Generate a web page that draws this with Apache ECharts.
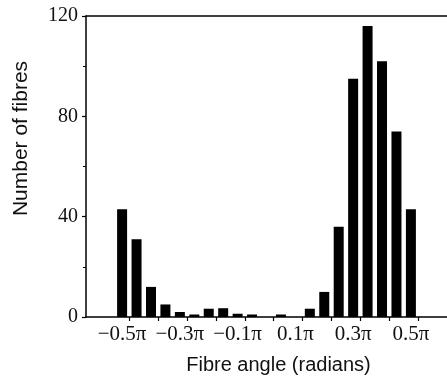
<!DOCTYPE html>
<html>
<head>
<meta charset="utf-8">
<script src="https://cdn.jsdelivr.net/npm/echarts@6/dist/echarts.min.js"></script>
<style>html,body{margin:0;padding:0;background:#fff}#c{width:447px;height:381px}</style>
</head>
<body>
<div id="c"></div>
<script>
// bin centres, in units of pi
var binCentres = [-0.5,-0.45,-0.4,-0.35,-0.3,-0.25,-0.2,-0.15,-0.1,-0.05,0,0.05,0.1,0.15,0.2,0.25,0.3,0.35,0.4,0.45,0.5];
var fibreCounts = [43,31,12,5,2,1,3.3,3.5,1.3,1,0,1,0,3.3,10,36,95,116,102,74,43];
var xTickLabels = [-0.5,-0.3,-0.1,0.1,0.3,0.5];
var xTickMarks = [-0.475,-0.375,-0.275,-0.175,-0.075,0.025,0.125,0.225,0.325,0.425,0.525];
var yTicks = [0,40,80,120];

var data = binCentres.map(function(x,i){return [x, fibreCounts[i]];});
var chart = echarts.init(document.getElementById('c'));
var serif = '"Liberation Serif", "DejaVu Serif", serif';
var sans = '"Liberation Sans", Arial, sans-serif';
chart.setOption({
  animation:false,
  grid:{left:86,right:-4,top:16,bottom:64,containLabel:false},
  xAxis:[{
    type:'value', min:-0.625, max:0.625,
    name:'Fibre angle (radians)', nameLocation:'middle', nameGap:38,
    nameTextStyle:{fontFamily:sans,fontSize:20,color:'#111',padding:[0,0,0,24]},
    axisLine:{show:true,onZero:false,lineStyle:{color:'#000',width:1.5}},
    axisTick:{show:true,length:4,customValues:xTickMarks,lineStyle:{color:'#000',width:1.2}},
    axisLabel:{customValues:xTickLabels,margin:7,fontFamily:serif,fontSize:21,color:'#111',
      formatter:function(v){return (v<0?'\u2212':'')+Math.abs(v).toFixed(1)+'\u03c0';}},
    splitLine:{show:false}
  },{
    type:'value', position:'top', min:-0.625, max:0.625,
    axisLine:{show:true,onZero:false,lineStyle:{color:'#000',width:1.5}},
    axisTick:{show:false}, axisLabel:{show:false}, splitLine:{show:false}
  }],
  yAxis:{
    type:'value', min:0, max:120, interval:40,
    name:'Number of fibres', nameLocation:'middle', nameGap:54,
    nameTextStyle:{fontFamily:sans,fontSize:21,color:'#111',padding:[0,0,0,56]},
    axisLine:{show:true,onZero:false,lineStyle:{color:'#000',width:1.5}},
    axisTick:{show:true,length:4,lineStyle:{color:'#000',width:1.2}},
    minorTick:{show:true,splitNumber:2,length:3,lineStyle:{color:'#000'}},
    axisLabel:{customValues:yTicks,margin:8,fontFamily:serif,fontSize:20,color:'#111'},
    splitLine:{show:false}
  },
  series:[{
    type:'bar', data:data, barWidth:10, xAxisIndex:0,
    itemStyle:{color:'#000'}
  }]
});
</script>
</body>
</html>
